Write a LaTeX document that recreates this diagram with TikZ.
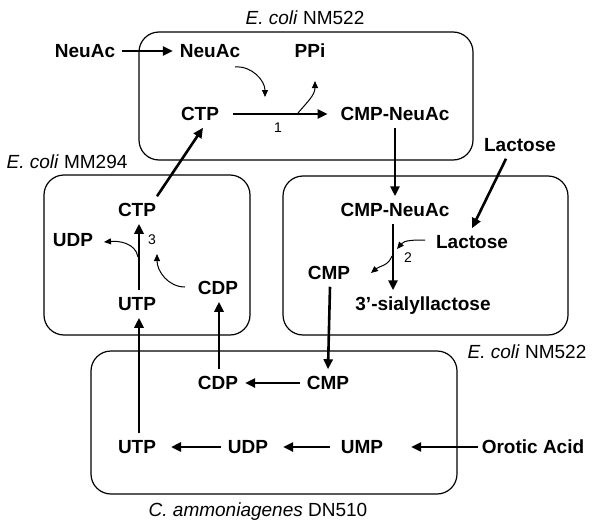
\documentclass[tikz,border=0pt]{standalone}
\usepackage{fontspec}
\setmainfont{Liberation Sans}
\usetikzlibrary{arrows.meta}
\begin{document}
\begin{tikzpicture}[x=1pt,y=-1pt,
  mol/.style={font=\bfseries\fontsize{19}{21}\selectfont, inner sep=0pt, outer sep=7pt, text height=13.5pt, text depth=0pt},
  strain/.style={font=\fontsize{19}{21}\selectfont, inner sep=0pt},
  num/.style={font=\fontsize{14}{16}\selectfont, inner sep=0pt},
  cell/.style={draw, line width=1.2pt, rounded corners=20pt},
  arr/.style={line width=2.6pt, -{Triangle[length=10pt,width=9pt]}},
  curv/.style={line width=1pt, -{Triangle[length=7pt,width=6pt]}}
]
\useasboundingbox (0,0) rectangle (600,530);

% cells
\draw[cell] (139,32) rectangle (473,160);
\draw[cell] (44,175) rectangle (250,335);
\draw[cell] (283,176) rectangle (568,335);
\draw[cell] (91,351) rectangle (457,494);

% strain labels
\node[strain] (s1) at (305,18) {\textit{E. coli} NM522};
\node[strain] (s2) at (67,162) {\textit{E. coli} MM294};
\node[strain] (s3) at (527,352) {\textit{E. coli} NM522};
\node[strain] (s4) at (258,512) {\textit{C. ammoniagenes} DN510};

% box 1
\node[mol] (neuout) at (85,51) {NeuAc};
\node[mol] (neuin) at (210,51) {NeuAc};
\node[mol] (ppi) at (310,51) {PPi};
\node[mol] (ctp1) at (200,114) {CTP};
\node[mol] (cmpneu1) at (395,114) {CMP-NeuAc};
\node[num] (n1) at (278,128) {1};

% box 2
\node[mol] (ctp2) at (137,210) {CTP};
\node[mol] (udp2) at (73,240) {UDP};
\node[mol] (utp2) at (137,304) {UTP};
\node[mol] (cdp2) at (218,288) {CDP};
\node[num] (n3) at (152,240) {3};

% box 3
\node[mol] (lacout) at (520,145) {Lactose};
\node[mol] (cmpneu3) at (395,210) {CMP-NeuAc};
\node[mol] (lacin) at (472,242) {Lactose};
\node[mol] (cmp3) at (329,273) {CMP};
\node[mol] (sial) at (423,304) {3’-sialyllactose};
\node[num] (n2) at (408,258) {2};

% box 4
\node[mol] (cdp4) at (218,383) {CDP};
\node[mol] (cmp4) at (328,383) {CMP};
\node[mol] (utp4) at (137,447) {UTP};
\node[mol] (udp4) at (248,447) {UDP};
\node[mol] (ump) at (362,447) {UMP};
\node[mol] (oro) at (533,447) {Orotic Acid};

% main arrows
\draw[arr] (neuout.east) -- (neuin.west);
\draw[arr] ([xshift=7pt]ctp1.east) -- ([xshift=-6pt]cmpneu1.west);
\draw[arr] (cmpneu1.south) -- (cmpneu3.north);
\draw[arr] ([xshift=-14pt]lacout.south) -- (lacin.north);
\coordinate (a2top) at ([xshift=-2pt]cmpneu3.south);
\draw[arr] (a2top) -- (a2top |- sial.north);
\draw[arr] ([xshift=-6pt]ctp2.north east) -- ([xshift=3pt]ctp1.south);
\draw[arr] ([xshift=2pt]utp2.north) -- ([xshift=2pt]ctp2.south);
\draw[arr] ([xshift=1pt]cmp3.south) -- (cmp4.north);
\draw[arr] ([xshift=1pt]cdp4.north) -- ([xshift=1pt]cdp2.south);
\draw[arr] ([xshift=2pt]utp4.north) -- ([xshift=2pt]utp2.south);
\draw[arr] (cmp4.west) -- (cdp4.east);
\draw[arr] (udp4.west) -- ([xshift=8pt]utp4.east);
\draw[arr] ([xshift=-4pt]ump.west) -- ([xshift=8pt]udp4.east);
\draw[arr] ([xshift=3pt]oro.west) -- ([xshift=21pt]ump.east);

% side reaction curves
\coordinate (c1s) at (235,67);
\coordinate (c1e) at (265,97);
\draw[curv] (c1s) to[out=5,in=90] (c1e);
\coordinate (c2s) at (298,113);
\coordinate (c2e) at (315,81);
\draw[curv] (c2s) to[out=50,in=-90] (c2e);

\coordinate (c3s) at (138,257);
\coordinate (c3e) at (104,242);
\draw[curv] (c3s) to[out=100,in=5] (c3e);
\coordinate (c4s) at (185,287);
\coordinate (c4e) at (157,254);
\draw[curv] (c4s) to[out=180,in=-90] (c4e);

\coordinate (c5s) at (425,240);
\coordinate (c5e) at (397,249);
\draw[curv] (c5s) to[out=180,in=50] (c5e);
\coordinate (c6s) at (392,256);
\coordinate (c6e) at (371,273);
\draw[curv] (c6s) to[out=-110,in=40] (c6e);
\end{tikzpicture}
\end{document}
